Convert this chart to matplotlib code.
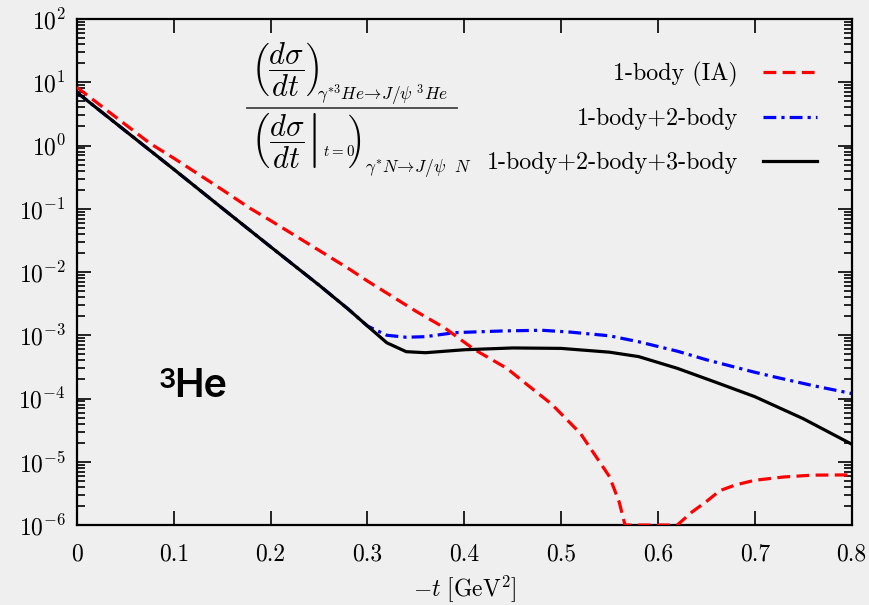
import numpy as np
import matplotlib
matplotlib.use('Agg')
import matplotlib.pyplot as plt
from matplotlib.ticker import LogLocator, FixedLocator, FuncFormatter

plt.rcParams['mathtext.fontset'] = 'cm'
plt.rcParams['font.family'] = 'cmr10'
plt.rcParams['axes.formatter.use_mathtext'] = True
plt.rcParams['axes.unicode_minus'] = False

# 1-body (IA)
t_ia = [0.0, 0.0754, 0.10, 0.15, 0.1786, 0.20, 0.25, 0.2818, 0.30, 0.35, 0.38,
        0.41, 0.444, 0.46, 0.49, 0.52, 0.55, 0.56, 0.566, 0.62, 0.635, 0.65,
        0.664, 0.68, 0.70, 0.73, 0.76, 0.80]
y_ia = [8.3, 1.08, 0.63, 0.20, 0.102, 0.065, 0.022, 0.011, 7.2e-3, 2.4e-3, 1.3e-3,
        6.0e-4, 3.0e-4, 1.9e-4, 8.2e-5, 2.8e-5, 5.8e-6, 2.3e-6, 1.0e-6, 1.0e-6, 1.6e-6, 2.35e-6,
        3.5e-6, 4.3e-6, 5.1e-6, 5.75e-6, 6.15e-6, 6.2e-6]

# 1-body + 2-body
t_12 = [0.0, 0.05, 0.10, 0.15, 0.20, 0.25, 0.28, 0.30, 0.32, 0.34, 0.36, 0.39,
        0.44, 0.48, 0.51, 0.55, 0.58, 0.62, 0.65, 0.70, 0.72, 0.76, 0.80]
y_12 = [6.9, 1.7, 0.42, 0.102, 0.025, 6.2e-3, 2.6e-3, 1.4e-3, 1.0e-3, 9.3e-4, 9.5e-4, 1.1e-3,
        1.17e-3, 1.2e-3, 1.12e-3, 9.8e-4, 7.9e-4, 5.6e-4, 4.1e-4, 2.6e-4, 2.2e-4, 1.6e-4, 1.2e-4]

# 1-body + 2-body + 3-body
t_123 = [0.0, 0.05, 0.10, 0.15, 0.20, 0.25, 0.28, 0.30, 0.32, 0.34, 0.36, 0.40,
         0.45, 0.50, 0.55, 0.58, 0.62, 0.66, 0.70, 0.75, 0.80]
y_123 = [6.9, 1.7, 0.42, 0.102, 0.025, 6.2e-3, 2.6e-3, 1.4e-3, 7.6e-4, 5.5e-4, 5.3e-4, 5.9e-4,
         6.3e-4, 6.2e-4, 5.4e-4, 4.6e-4, 3.0e-4, 1.8e-4, 1.07e-4, 4.8e-5, 1.9e-5]

bg = '#efefef'
W, H = 869, 605
fig = plt.figure(figsize=(W / 100, H / 100), dpi=100, facecolor=bg)
ax = fig.add_axes([0.0886, 0.1322, 0.8914, 0.8364], facecolor=bg)

ax.plot(t_ia, y_ia, color='#ff0000', lw=2.3, dashes=(4, 2), label='1-body (IA)', zorder=3)
ax.plot(t_12, y_12, color='#0000ff', lw=2.3, dashes=(4, 1.6, 1, 1.6), label='1-body+2-body', zorder=2)
ax.plot(t_123, y_123, color='black', lw=2.3, label='1-body+2-body+3-body', zorder=4)

ax.set_yscale('log')
ax.set_xlim(0, 0.8)
ax.set_ylim(1e-6, 1e2)

ax.xaxis.set_major_locator(FixedLocator(np.arange(0, 0.81, 0.1)))
ax.xaxis.set_major_formatter(FuncFormatter(lambda v, p: '%g' % round(v, 2)))
ax.yaxis.set_major_locator(LogLocator(base=10, numticks=20))
ax.yaxis.set_minor_locator(LogLocator(base=10, subs=np.arange(2, 10), numticks=20))

ax.tick_params(which='both', direction='in', top=True, right=True, labelsize=17, width=1.2)
ax.tick_params(which='major', length=10)
ax.tick_params(which='minor', length=5.5)
ax.tick_params(axis='x', pad=13)
ax.tick_params(axis='y', pad=8)
for sp in ax.spines.values():
    sp.set_linewidth(1.6)

ax.set_xlabel(r'$-t\ [\mathrm{GeV}^2]$', fontsize=17, labelpad=6)

ax.legend(loc='upper right', bbox_to_anchor=(0.968, 0.935), frameon=False,
          markerfirst=False, fontsize=17.3, handlelength=2.25, handletextpad=1.05,
          labelspacing=0.9, borderaxespad=0, borderpad=0.4)


def px(x, y):
    # figure pixel (from top-left) -> figure fraction
    return x / W, 1 - y / H


# ratio label, built piece by piece
fs_big, fs_sub = 22, 12.5
fig.text(*px(251, 69), r'$\left(\dfrac{d\sigma}{dt}\right)$', ha='left', va='center', fontsize=fs_big)
fig.text(*px(317, 100), r'$\gamma^{*3}He\!\rightarrow\! J/\psi\ ^3He$', ha='left', va='baseline',
         fontsize=fs_sub)
den = fig.text(*px(251, 141),
               r'$\left(\left.\dfrac{d\sigma}{dt}\right|_{{}_{t=0}}\!\!\right)$',
               ha='left', va='center', fontsize=fs_big)
fig.canvas.draw()
x_end = den.get_window_extent().x1
fig.text(*px(x_end + 3, 172), r'$\gamma^{*}N\!\rightarrow\! J/\psi\ \ N$', ha='left', va='baseline',
         fontsize=fs_sub)
fig.add_artist(plt.Line2D([247 / W, 457 / W], [1 - 108 / H, 1 - 108 / H], color='#444444', lw=1.3))

ax.text(0.105, 0.271, '3', transform=ax.transAxes, ha='left', va='baseline',
        fontsize=19.5, family='Inter', fontweight='semibold')
ax.text(0.126, 0.253, 'He', transform=ax.transAxes, ha='left', va='baseline',
        fontsize=28.5, family='Inter', fontweight='semibold')

fig.savefig('out.png', dpi=100, facecolor=bg)
